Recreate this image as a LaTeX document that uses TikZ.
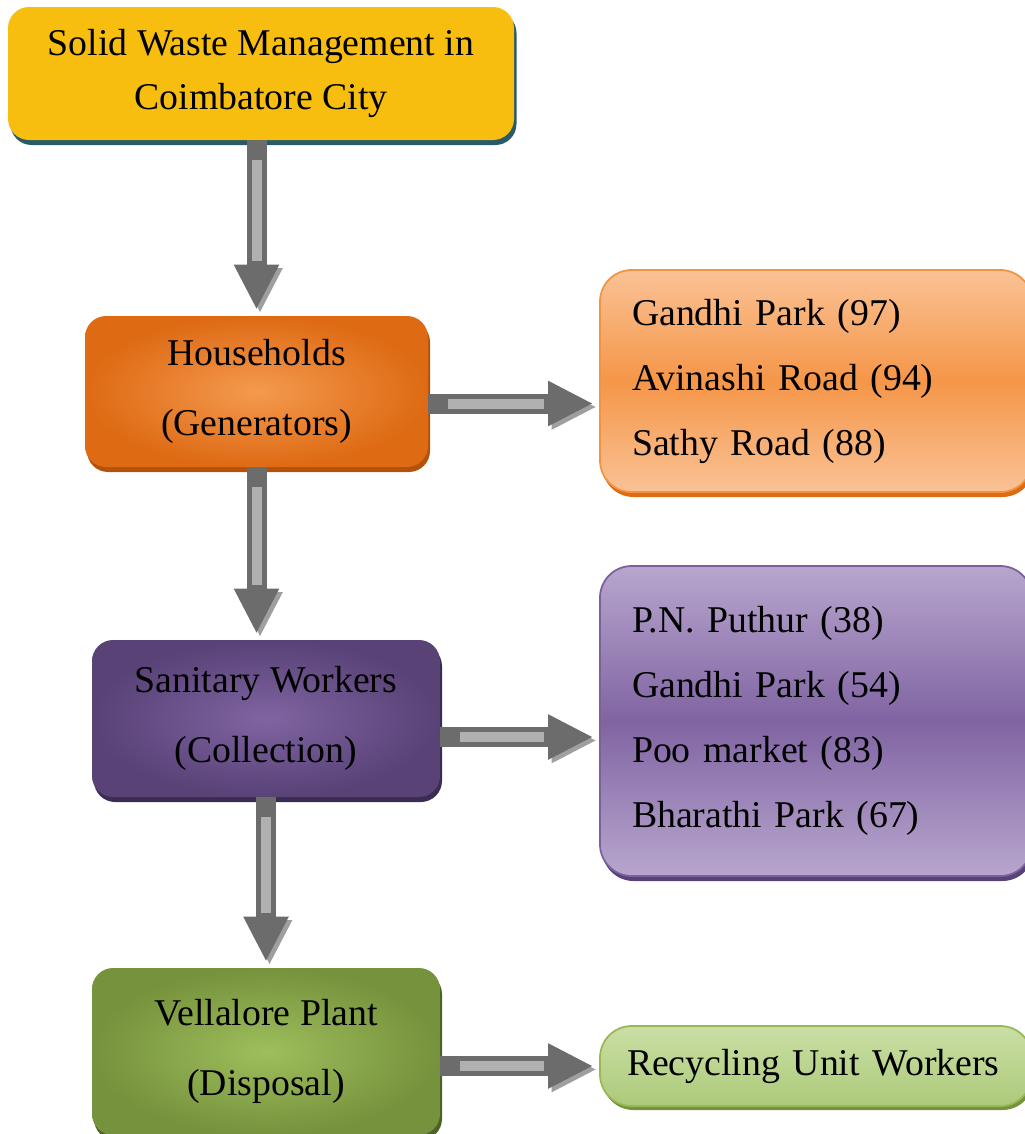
\documentclass[tikz,border=0pt]{standalone}
\usepackage{fontspec}
\setmainfont{Liberation Serif}
\usetikzlibrary{arrows.meta, positioning, shadows}

\definecolor{titlefill}{RGB}{247,190,16}
\definecolor{titleshd}{RGB}{40,90,105}
\definecolor{houseout}{RGB}{222,106,20}
\definecolor{housein}{RGB}{244,154,78}
\definecolor{houseshd}{RGB}{178,82,12}
\definecolor{orlight}{RGB}{250,194,150}
\definecolor{ormid}{RGB}{245,150,72}
\definecolor{orline}{RGB}{241,148,66}
\definecolor{sanout}{RGB}{88,66,118}
\definecolor{sanin}{RGB}{128,100,162}
\definecolor{sanshd}{RGB}{58,44,82}
\definecolor{pulight}{RGB}{184,166,206}
\definecolor{pumid}{RGB}{128,100,162}
\definecolor{puline}{RGB}{122,96,156}
\definecolor{velout}{RGB}{118,146,60}
\definecolor{velin}{RGB}{158,190,92}
\definecolor{velshd}{RGB}{78,98,38}
\definecolor{gnlight}{RGB}{202,222,164}
\definecolor{gnmid}{RGB}{172,202,122}
\definecolor{gnline}{RGB}{152,184,86}

\begin{document}
\begin{tikzpicture}[
    titlebox/.style={rectangle, rounded corners=12pt, fill=titlefill, drop shadow={shadow xshift=0.05cm, shadow yshift=-0.1cm, fill=titleshd, opacity=1}, font=\fontsize{21.5}{31}\selectfont, align=center, minimum width=10.12cm, minimum height=2.66cm},
    stage/.style={rectangle, rounded corners=12pt, font=\fontsize{21.5}{40}\selectfont, align=center, minimum width=6.96cm, minimum height=3.1cm},
    zone/.style={rectangle, rounded corners=18pt, draw, line width=1pt, font=\fontsize{21.5}{37}\selectfont, align=left, text width=7.36cm, inner xsep=0.64cm},
    arr/.style={draw=gray!85!black, line width=0.4cm, -{Triangle[length=0.9cm, width=0.84cm]}, shorten >=0.12cm,
        preaction={draw=gray!75, transform canvas={shift={(0.07,-0.07)}}},
        postaction={draw=gray!62, line width=0.2cm, arrows=-, shorten >=1.1cm, shorten <=0.4cm}}
]
    \clip (0,0) rectangle (20.5,-22.68);

    % Stages
    \node[titlebox] (title) at (5.22,-1.47) {Solid Waste Management in\\Coimbatore City};
    \node[stage, minimum width=6.86cm, minimum height=3.02cm, inner color=housein, outer color=houseout, drop shadow={shadow xshift=0.04cm, shadow yshift=-0.1cm, fill=houseshd, opacity=1}] (house) at (5.13,-7.83) {Households\\(Generators)};
    \node[stage, minimum height=3.14cm, inner color=sanin, outer color=sanout, drop shadow={shadow xshift=0.04cm, shadow yshift=-0.1cm, fill=sanshd, opacity=1}] (sanit) at (5.32,-14.37) {Sanitary Workers\\(Collection)};
    \node[stage, minimum height=3.34cm, inner color=velin, outer color=velout, drop shadow={shadow xshift=0.04cm, shadow yshift=-0.1cm, fill=velshd, opacity=1}] (plant) at (5.32,-21.03) {Vellalore Plant\\(Disposal)};

    % Zones
    \node[zone, draw=orline, minimum height=4.44cm, top color=orlight, bottom color=orlight, middle color=ormid, drop shadow={shadow xshift=0.04cm, shadow yshift=-0.1cm, fill=houseout, opacity=1}] (zoneA) at (16.32,-7.62) {Gandhi Park (97)\\Avinashi Road (94)\\Sathy Road (88)};
    \node[zone, draw=puline, minimum height=6.2cm, top color=pulight, bottom color=pulight, middle color=pumid, drop shadow={shadow xshift=0.04cm, shadow yshift=-0.1cm, fill=sanout, opacity=1}] (zoneB) at (16.32,-14.42) {P.N. Puthur (38)\\Gandhi Park (54)\\Poo market (83)\\Bharathi Park (67)};
    \node[zone, draw=gnline, minimum height=1.6cm, text width=8.2cm, inner xsep=0.22cm, align=left, top color=gnlight, bottom color=gnmid, drop shadow={shadow xshift=0.04cm, shadow yshift=-0.08cm, fill=velout, opacity=1}] (recyc) at (16.32,-21.32) {\hspace*{0.32cm}Recycling Unit Workers};

    % Connectors
    \draw[arr] (house.north |- title.south) -- (house.north);
    \draw[arr] (house.south) -- (house.south |- sanit.north);
    \draw[arr] (sanit.south) -- (sanit.south |- plant.north);

    \draw[arr] ([yshift=-0.24cm]house.east) -- ([yshift=-0.24cm]house.east -| zoneA.west);
    \draw[arr] ([yshift=-0.37cm]sanit.east) -- ([yshift=-0.37cm]sanit.east -| zoneB.west);
    \draw[arr] (plant.east |- recyc.west) -- (recyc.west);

\end{tikzpicture}
\end{document}
